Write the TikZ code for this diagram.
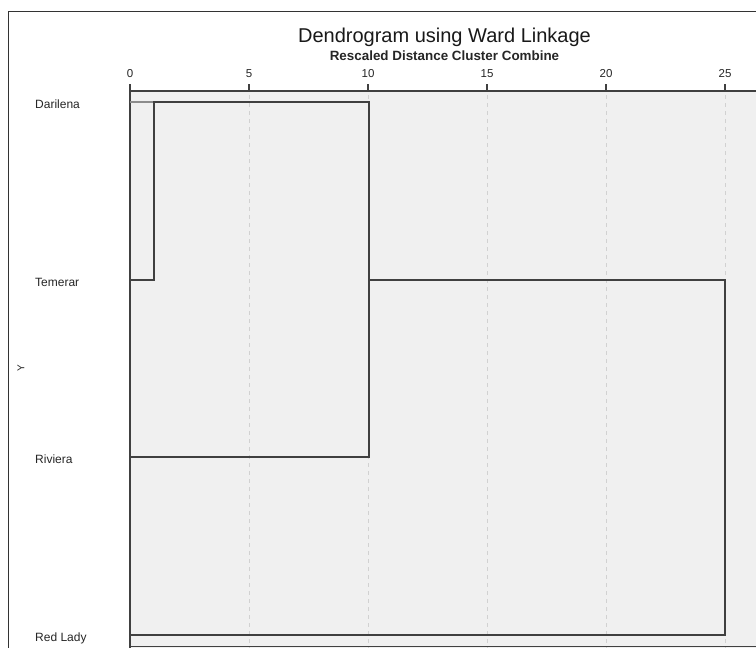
\documentclass[tikz,border=0pt]{standalone}
\usepackage{fontspec}
\setmainfont{Liberation Sans}
\begin{document}
\begin{tikzpicture}[x=1pt,y=-1pt,
  link/.style={draw=black!75,line width=1.3pt},
  grid/.style={draw=black!18,line width=0.8pt,dash pattern=on 4pt off 4pt},
  leaf/.style={anchor=base west,font=\fontsize{12}{14}\selectfont,text=black!85,inner sep=0pt},
  tick/.style={anchor=base,font=\fontsize{11.5}{13}\selectfont,text=black!85,inner sep=0pt}]
\useasboundingbox (0,0) rectangle (756,648);
\fill[white] (0,0) rectangle (756,648);
% outer frame
\draw[black!80,line width=1pt] (8,648) -- (8,11) -- (757,11);
% plot area
\fill[black!6] (130,91) rectangle (757,648);
\foreach \v/\px in {5/249,10/368,15/487,20/606,25/725}{
  \draw[grid] (\px,95) -- (\px,648);
}
% axis
\draw[black!75,line width=1.3pt] (130,91) -- (757,91);
\draw[black!75,line width=1.3pt] (130,84) -- (130,648);
\foreach \v/\px in {0/130,5/249,10/368,15/487,20/606,25/725}{
  \draw[black!75,line width=1.3pt] (\px,84) -- (\px,91);
  \node[tick] (t\v) at (\px,77.5) {\v};
}
\draw[black!75,line width=1pt] (130,646) -- (757,646);
% titles
\node[anchor=base,font=\fontsize{20}{24}\selectfont,inner sep=0pt,text=black!90] (title) at (444.5,42) {Dendrogram using Ward Linkage};
\node[anchor=base,font=\bfseries\fontsize{13.4}{15}\selectfont,inner sep=0pt,text=black!85] (sub) at (444.5,60) {Rescaled Distance Cluster Combine};
% leaves
\node[leaf] (dar) at (35,108) {Darilena};
\node[leaf] (tem) at (35,286) {Temerar};
\node[leaf] (riv) at (35,463) {Riviera};
\node[leaf] (red) at (35,641) {Red Lady};
\node[font=\fontsize{10}{11}\selectfont,rotate=90,inner sep=0pt,text=black!85] (ylab) at (21,368) {Y};
% coordinates
\coordinate (d0) at (130,102);
\coordinate (t0) at (130,280);
\coordinate (r0) at (130,457);
\coordinate (l0) at (130,635);
\coordinate (m1a) at (154,102);
\coordinate (m1b) at (154,280);
\coordinate (m2a) at (369,102);
\coordinate (m2b) at (369,457);
\coordinate (m2c) at (369,280);
\coordinate (m3a) at (725,280);
\coordinate (m3b) at (725,635);
% links
\draw[link,draw=black!45] (d0) -- (m1a);
\draw[link] (t0) -- (m1b) -- (m1a) -- (m2a) -- (m2b) -- (r0);
\draw[link] (m2c) -- (m3a) -- (m3b) -- (l0);
\end{tikzpicture}
\end{document}
